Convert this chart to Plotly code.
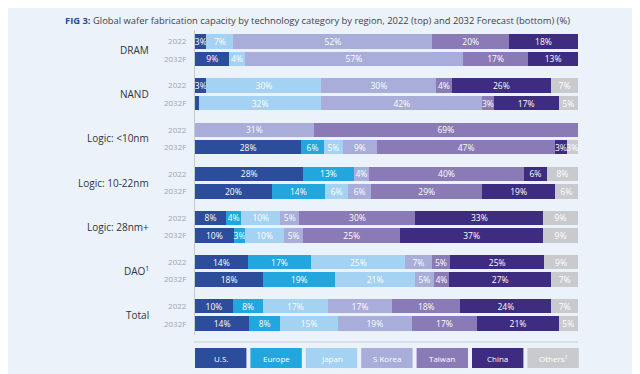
import plotly.graph_objects as go

# ---------------- data ----------------
categories = ["DRAM", "NAND", "Logic: <10nm", "Logic: 10-22nm", "Logic: 28nm+", "DAO<sup>1</sup>", "Total"]
years = ["2022", "2032F"]
regions = ["U.S.", "Europe", "Japan", "S Korea", "Taiwan", "China", "Others"]
legend_labels = ["U.S.", "Europe", "Japan", "S Korea", "Taiwan", "China", "Others<sup>1</sup>"]

# values per bar (order: cat0-2022, cat0-2032F, cat1-2022, ...)
us      = [3, 9, 3, 1, 0, 28, 28, 20, 8, 10, 14, 18, 10, 14]
europe  = [0, 0, 0, 0, 0, 6, 13, 14, 4, 3, 17, 19, 8, 8]
japan   = [7, 4, 30, 32, 0, 5, 0, 6, 10, 10, 25, 21, 17, 15]
skorea  = [52, 57, 30, 42, 31, 9, 4, 6, 5, 5, 7, 5, 17, 19]
taiwan  = [20, 17, 4, 3, 69, 47, 40, 29, 30, 25, 5, 4, 18, 17]
china   = [18, 13, 26, 17, 0, 3, 6, 19, 33, 37, 25, 27, 24, 21]
others  = [0, 0, 7, 5, 0, 3, 8, 6, 9, 9, 9, 7, 7, 5]
series = [us, europe, japan, skorea, taiwan, china, others]

colors = ["#2c4d9c", "#22a6de", "#a3d2f2", "#a9add9", "#8a7bb6", "#3d2c80", "#c9cacd"]

# ---------------- geometry helpers ----------------
W, H = 640, 374
L, R, T, B = 187, 70, 22, 47
GROUP = 44.2
ROW = 17.5

ypos = []
ytext = []
for g in range(len(categories)):
    for k, yr in enumerate(years):
        ypos.append(g * GROUP + k * ROW)
        ytext.append(yr)

y_top = ypos[0] - 11.5
y_bot = ypos[-1] + 11.3

def px_to_paper_x(px):
    return (px - L) / (W - L - R)

def px_to_paper_y(py):
    return (H - B - py) / (H - T - B)

font_family = "Open Sans, Lato, sans-serif"

fig = go.Figure()
for name, vals, col in zip(regions, series, colors):
    fig.add_trace(go.Bar(
        x=vals, y=ypos, orientation="h", name=name,
        marker=dict(color=col, line=dict(width=0)),
        text=[f"{v}%" if v > 1 else "" for v in vals],
        textposition="inside", insidetextanchor="middle", textangle=0,
        textfont=dict(color="white", size=8.5, family=font_family),
        cliponaxis=False,
        width=14.5, showlegend=False,
    ))

fig.update_layout(
    barmode="stack", barnorm="percent",
    width=W, height=H,
    margin=dict(l=L, r=R, t=T, b=B),
    paper_bgcolor="#ecf2f9", plot_bgcolor="#ecf2f9",
    font=dict(family=font_family),
    uniformtext=dict(minsize=8.5, mode="show"),
    xaxis=dict(range=[0, 100.02], visible=False, fixedrange=True),
    yaxis=dict(range=[y_bot, y_top], tickvals=ypos, ticktext=ytext,
               tickfont=dict(size=8, color="#a0a5ae", family=font_family),
               showline=True, linecolor="#c4cad3", linewidth=1,
               showgrid=False, zeroline=False, ticks="", ticklabelstandoff=6),
)

# group labels
for g, cat in enumerate(categories):
    yc = g * GROUP + ROW / 2
    fig.add_annotation(x=px_to_paper_x(143), xref="paper", y=yc, yref="y",
                       text=cat, showarrow=False, xanchor="right", yanchor="middle",
                       font=dict(size=10, color="#2e3440", family=font_family))

# title
fig.add_annotation(x=px_to_paper_x(55), xref="paper", y=px_to_paper_y(13), yref="paper",
                   text="<b><span style='color:#1f4f8f'>FIG 3:</span></b> Global wafer fabrication capacity by technology category by region, 2022 (top) and 2032 Forecast (bottom) (%)",
                   showarrow=False, xanchor="left", yanchor="middle",
                   font=dict(size=9.4, color="#3c4350", family=font_family))

# separator line above legend
fig.add_shape(type="line", xref="paper", yref="paper",
              x0=px_to_paper_x(186), x1=px_to_paper_x(570),
              y0=px_to_paper_y(334), y1=px_to_paper_y(334),
              line=dict(color="#c8cdd5", width=1))

# legend boxes
box_w, gap = 51.4, 4.0
for i, (lab, col) in enumerate(zip(legend_labels, colors)):
    x0 = 187 + i * (box_w + gap)
    x1 = x0 + box_w
    fig.add_shape(type="rect", xref="paper", yref="paper",
                  x0=px_to_paper_x(x0), x1=px_to_paper_x(x1),
                  y0=px_to_paper_y(360), y1=px_to_paper_y(340),
                  fillcolor=col, line=dict(width=0))
    fig.add_annotation(x=px_to_paper_x((x0 + x1) / 2), xref="paper",
                       y=px_to_paper_y(350), yref="paper", text=lab,
                       showarrow=False, xanchor="center", yanchor="middle",
                       font=dict(size=8, color="white", family=font_family))

# footnote
fig.add_annotation(x=px_to_paper_x(57), xref="paper", y=px_to_paper_y(370), yref="paper",
                   text="1. Discretes, analog and optoelectronics & sensors",
                   showarrow=False, xanchor="left", yanchor="middle",
                   font=dict(size=8.5, color="#4a505c", family=font_family))

# right panel edge
fig.add_shape(type="line", xref="paper", yref="paper",
              x0=px_to_paper_x(632), x1=px_to_paper_x(632),
              y0=px_to_paper_y(0), y1=px_to_paper_y(374),
              line=dict(color="#dde4ee", width=1))

fig.write_html("out.html")
